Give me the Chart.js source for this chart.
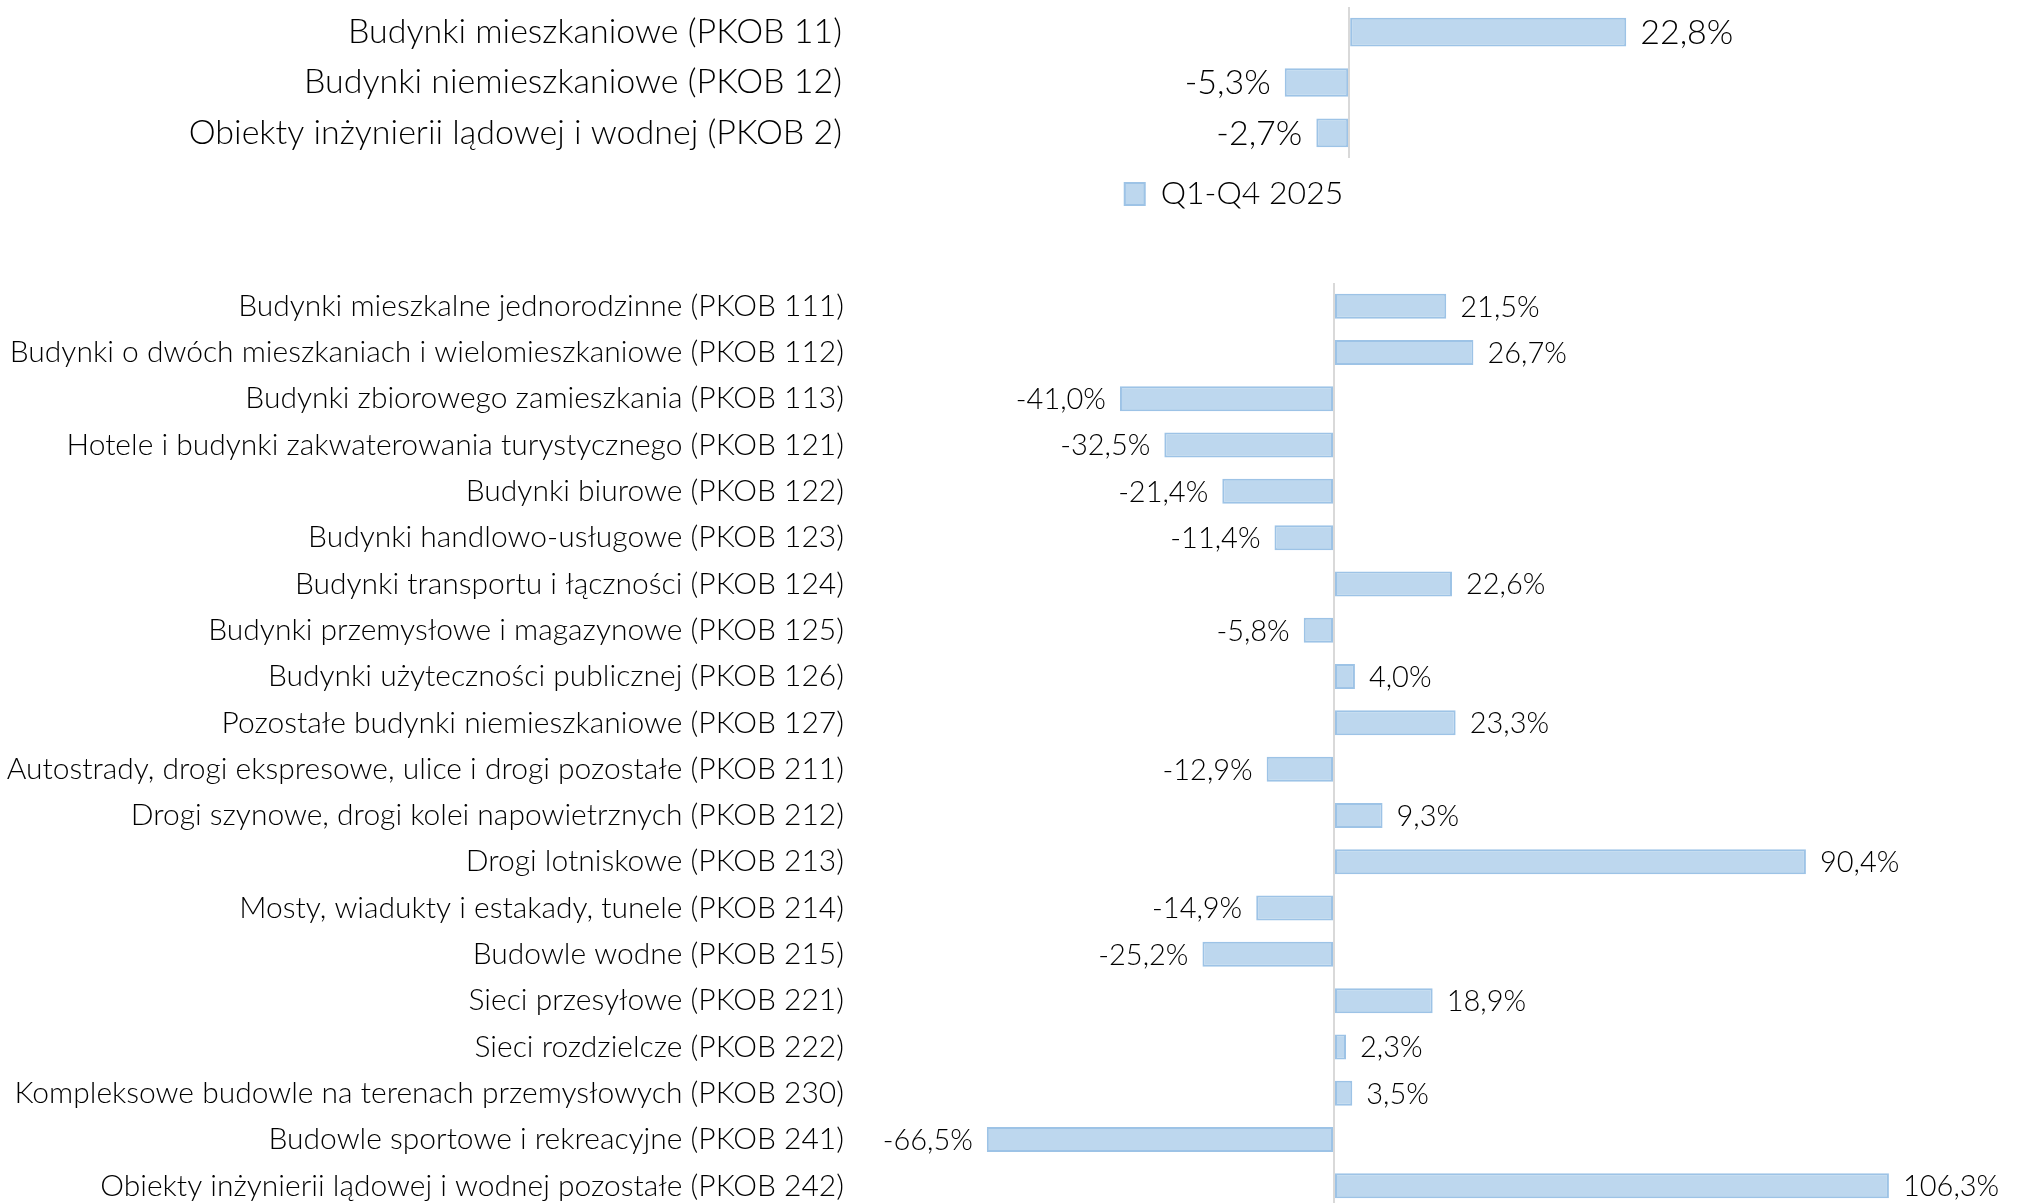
<!DOCTYPE html>
<html>
<head>
<meta charset="utf-8">
<script src="https://cdn.jsdelivr.net/npm/chart.js@4.4.1/dist/chart.umd.min.js"></script>
<style>
  html, body { margin: 0; padding: 0; background: #fff; overflow: hidden; }
  #wrapTop { position: absolute; left: 0; top: 0; width: 2019px; height: 220px; }
  #wrapBottom { position: absolute; left: 0; top: 270px; width: 2019px; height: 939px; }
</style>
</head>
<body>
<div id="wrapTop"><canvas id="chartTop"></canvas></div>
<div id="wrapBottom"><canvas id="chartBottom"></canvas></div>
<script>
  const seriesName = 'Q1-Q4 2025';

  const topLabels = [
    'Budynki mieszkaniowe (PKOB 11)',
    'Budynki niemieszkaniowe (PKOB 12)',
    'Obiekty inżynierii lądowej i wodnej (PKOB 2)',
  ];
  const topValues = [22.8, -5.3, -2.7];

  const bottomLabels = [
    'Budynki mieszkalne jednorodzinne (PKOB 111)',
    'Budynki o dwóch mieszkaniach i wielomieszkaniowe (PKOB 112)',
    'Budynki zbiorowego zamieszkania (PKOB 113)',
    'Hotele i budynki zakwaterowania turystycznego (PKOB 121)',
    'Budynki biurowe (PKOB 122)',
    'Budynki handlowo-usługowe (PKOB 123)',
    'Budynki transportu i łączności (PKOB 124)',
    'Budynki przemysłowe i magazynowe (PKOB 125)',
    'Budynki użyteczności publicznej (PKOB 126)',
    'Pozostałe budynki niemieszkaniowe (PKOB 127)',
    'Autostrady, drogi ekspresowe, ulice i drogi pozostałe (PKOB 211)',
    'Drogi szynowe, drogi kolei napowietrznych (PKOB 212)',
    'Drogi lotniskowe (PKOB 213)',
    'Mosty, wiadukty i estakady, tunele (PKOB 214)',
    'Budowle wodne (PKOB 215)',
    'Sieci przesyłowe (PKOB 221)',
    'Sieci rozdzielcze (PKOB 222)',
    'Kompleksowe budowle na terenach przemysłowych (PKOB 230)',
    'Budowle sportowe i rekreacyjne (PKOB 241)',
    'Obiekty inżynierii lądowej i wodnej pozostałe (PKOB 242)',
  ];
  const bottomValues = [21.5, 26.7, -41.0, -32.5, -21.4, -11.4, 22.6, -5.8, 4.0, 23.3,
                        -12.9, 9.3, 90.4, -14.9, -25.2, 18.9, 2.3, 3.5, -66.5, 106.3];

  const FONT = 'Lato';
  const fill = '#bdd7ee';
  const edge = '#9dc3e6';

  // value labels next to the bar ends, comma decimals like the source
  const valueLabels = {
    id: 'valueLabels',
    afterDatasetsDraw(chart, args, opts) {
      const ctx = chart.ctx;
      const meta = chart.getDatasetMeta(0);
      const vals = chart.data.datasets[0].data;
      ctx.save();
      ctx.font = '300 ' + opts.size + 'px ' + FONT;
      ctx.fillStyle = '#000';
      ctx.textBaseline = 'middle';
      meta.data.forEach((bar, i) => {
        const v = vals[i];
        const txt = v.toFixed(1).replace('.', ',') + '%';
        if (v >= 0) {
          ctx.textAlign = 'left';
          ctx.fillText(txt, bar.x + opts.gap, bar.y + 1);
        } else {
          ctx.textAlign = 'right';
          ctx.fillText(txt, bar.x - opts.gap, bar.y + 1);
        }
      });
      ctx.restore();
    }
  };

  function makeChart(id, labels, values, o) {
    return new Chart(document.getElementById(id), {
      type: 'bar',
      data: {
        labels: labels,
        datasets: [{
          label: seriesName,
          data: values,
          backgroundColor: fill,
          borderColor: edge,
          borderWidth: 2,
          borderSkipped: false,
          barPercentage: o.barPct,
          categoryPercentage: 1,
          clip: false,
        }]
      },
      options: {
        indexAxis: 'y',
        responsive: true,
        maintainAspectRatio: false,
        animation: false,
        layout: { padding: o.padding },
        scales: {
          x: {
            min: o.min,
            max: o.max,
            afterBuildTicks: s => { s.ticks = [{ value: 0 }]; },
            afterFit: s => { s.height = 0; s.paddingLeft = 0; s.paddingRight = 0; },
            ticks: { display: false },
            border: { display: false },
            grid: { color: '#d9d9d9', lineWidth: 2, drawTicks: false },
          },
          y: {
            afterFit: s => { s.width = 860; s.paddingTop = 0; s.paddingBottom = 0; },
            ticks: {
              padding: o.tickPad,
              color: '#000',
              autoSkip: false,
              font: { family: FONT, size: o.labelSize, weight: '300' },
            },
            border: { display: false },
            grid: { display: false, drawTicks: false },
          }
        },
        plugins: {
          tooltip: { enabled: false },
          legend: o.legend,
          valueLabels: { size: o.valueSize, gap: o.gap },
        }
      },
      plugins: [valueLabels]
    });
  }

  makeChart('chartTop', topLabels, topValues, {
    barPct: 0.57,
    min: -40.25, max: 21.3,
    padding: { top: 7, right: 411, bottom: 0, left: 0 },
    tickPad: 18,
    labelSize: 34,
    valueSize: 34,
    gap: 14,
    legend: {
      display: true,
      position: 'bottom',
      fullSize: false,
      labels: {
        boxWidth: 20,
        boxHeight: 22,
        padding: 20,
        color: '#000',
        font: { family: FONT, size: 32, weight: '300' },
      }
    }
  });

  makeChart('chartBottom', bottomLabels, bottomValues, {
    barPct: 0.54,
    min: -90.8, max: 118,
    padding: { top: 13, right: 69, bottom: 0, left: 0 },
    tickPad: 16,
    labelSize: 30,
    valueSize: 29,
    gap: 14,
    legend: { display: false }
  });
</script>
</body>
</html>
